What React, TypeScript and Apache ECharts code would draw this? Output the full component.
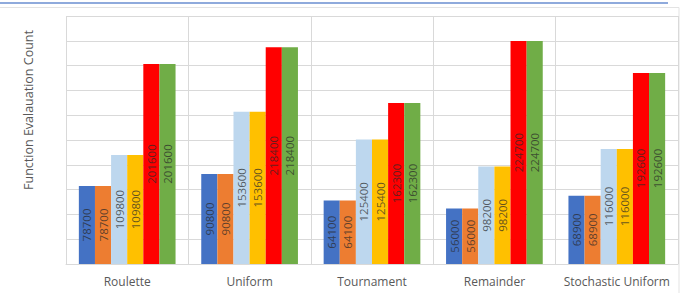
import React, { useEffect, useRef } from "react";
import * as echarts from "echarts";

const categories = ["Roulette", "Uniform", "Tournament", "Remainder", "Stochastic Uniform"];
const series1 = [78700, 90800, 64100, 56000, 68900];
const series2 = [78700, 90800, 64100, 56000, 68900];
const series3 = [109800, 153600, 125400, 98200, 116000];
const series4 = [109800, 153600, 125400, 98200, 116000];
const series5 = [201600, 218400, 162300, 224700, 192600];
const series6 = [201600, 218400, 162300, 224700, 192600];
const seriesNames = ["Series 1", "Series 2", "Series 3", "Series 4", "Series 5", "Series 6"];
const yAxisTitle = "Function Evalauation Count";

const colors = ["#4472C4", "#ED7D31", "#BDD7EE", "#FFC000", "#FF0000", "#70AD47"];

export default function App() {
  const ref = useRef<HTMLDivElement>(null);
  useEffect(() => {
    if (!ref.current) return;
    const chart = echarts.init(ref.current, undefined, { renderer: "svg" });
    const allData = [series1, series2, series3, series4, series5, series6];
    chart.setOption({
      animation: false,
      backgroundColor: "#FFFFFF",
      textStyle: { fontFamily: "Open Sans" },
      grid: { left: 66, right: 5, top: 16, bottom: 29, containLabel: false },
      xAxis: {
        type: "category",
        data: categories,
        axisLine: { show: true, lineStyle: { color: "#D9D9D9" } },
        axisTick: { show: false },
        splitLine: { show: true, interval: 0, lineStyle: { color: "#D9D9D9" } },
        axisLabel: { color: "#595959", fontSize: 12, margin: 11, interval: 0, fontFamily: "Open Sans" },
      },
      yAxis: {
        type: "value",
        min: 0,
        max: 250000,
        interval: 25000,
        axisLabel: { show: false },
        axisLine: { show: false },
        axisTick: { show: false },
        splitLine: { show: true, lineStyle: { color: "#D9D9D9" } },
      },
      graphic: [
        {
          type: "line",
          shape: { x1: 0, y1: 3, x2: 668, y2: 3 },
          style: { stroke: "#8FAADC", lineWidth: 2 },
          silent: true,
        },
        {
          type: "rect",
          shape: { x: -2, y: 7.5, width: 681, height: 300 },
          style: { fill: "none", stroke: "#E3E3E3", lineWidth: 1 },
          silent: true,
        },
        {
          type: "text",
          x: 28,
          y: 110,
          rotation: Math.PI / 2,
          style: {
            text: yAxisTitle,
            fill: "#595959",
            fontSize: 12.5,
            fontFamily: "Open Sans",
            align: "center",
            verticalAlign: "middle",
          },
          silent: true,
        },
      ],
      series: allData.map((d, i) => ({
        name: seriesNames[i],
        type: "bar",
        data: d,
        barGap: "0%",
        barCategoryGap: "21%",
        itemStyle: { color: colors[i] },
        label: {
          show: true,
          position: "inside",
          rotate: 90,
          fontSize: 11.5,
          fontFamily: "Open Sans",
          color: "rgba(40,40,40,0.72)",
        },
      })),
    });
    return () => chart.dispose();
  }, []);
  return (
    <div
      ref={ref}
      style={{ position: "fixed", left: 0, top: 0, width: 683, height: 293 }}
    />
  );
}
